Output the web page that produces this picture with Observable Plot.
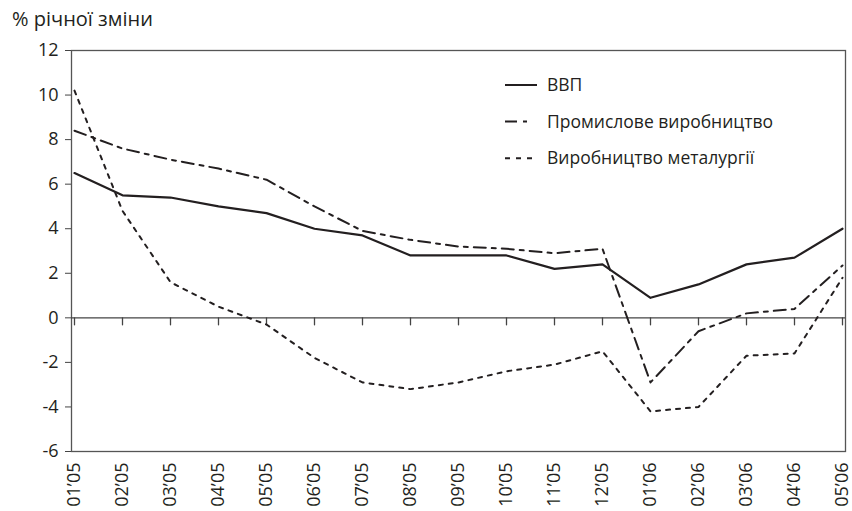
<!DOCTYPE html>
<html>
<head>
<meta charset="utf-8">
<script src="https://cdn.jsdelivr.net/npm/d3@7"></script>
<script src="https://cdn.jsdelivr.net/npm/@observablehq/plot@0.6"></script>
<style>
  html, body { margin: 0; padding: 0; background: #fff; }
  #wrap { position: relative; width: 852px; height: 511px; font-family: "Open Sans", sans-serif; color: #231f20; }
  #title { position: absolute; left: 12px; top: 6px; font-size: 20px; line-height: 26px; }
  #legend { position: absolute; left: 0; top: 0; pointer-events: none; }
</style>
</head>
<body>
<div id="wrap">
  <div id="chart"></div>
  <div id="title">% річної зміни</div>
</div>
<script>
const months = ["01’05","02’05","03’05","04’05","05’05","06’05","07’05","08’05","09’05","10’05","11’05","12’05","01’06","02’06","03’06","04’06","05’06"];
const gdp = [6.5, 5.5, 5.4, 5.0, 4.7, 4.0, 3.7, 2.8, 2.8, 2.8, 2.2, 2.4, 0.9, 1.5, 2.4, 2.7, 4.0];
const industry = [8.4, 7.6, 7.1, 6.7, 6.2, 5.0, 3.9, 3.5, 3.2, 3.1, 2.9, 3.1, -2.9, -0.6, 0.2, 0.4, 2.35];
const metallurgy = [10.2, 4.8, 1.6, 0.5, -0.3, -1.8, -2.9, -3.2, -2.9, -2.4, -2.1, -1.5, -4.2, -4.0, -1.7, -1.6, 1.8];
const yTicks = [-6, -4, -2, 0, 2, 4, 6, 8, 10, 12];
const seriesNames = ["ВВП", "Промислове виробництво", "Виробництво металургії"];

const ink = "#231f20";
const toRows = (vals) => months.map((m, i) => ({month: m, value: vals[i]}));

const tickShape = { draw(context, l) { context.moveTo(0, 0); context.lineTo(0, -l); } };

const chart = Plot.plot({
  width: 852,
  height: 511,
  marginLeft: 71,
  marginRight: 7,
  marginTop: 50,
  marginBottom: 60,
  style: { fontFamily: "Open Sans, sans-serif", fontSize: "17px", color: ink, background: "#fff" },
  x: { type: "point", domain: months, padding: 0 },
  y: { domain: [-6, 12] },
  marks: [
    Plot.frame({ stroke: "#555", strokeWidth: 1.3 }),
    Plot.ruleX([0], { frameAnchor: "left", stroke: ink, strokeWidth: 1.5 }),
    Plot.ruleY([0], { stroke: "#444", strokeWidth: 1.3 }),
    Plot.vector(months, { x: d => d, y: 0, length: 7, rotate: 180, anchor: "start", shape: tickShape, stroke: "#444", strokeWidth: 1.3 }),
    Plot.axisY({ ticks: yTicks, tickSize: 6, tickPadding: 7, tickFormat: d => String(d), label: null, stroke: "#444", fontSize: 18, fill: ink }),
    Plot.axisX({ anchor: "bottom", tickSize: 0, tickPadding: 11, tickRotate: -90, label: null, fontSize: 18, fill: ink }),
    Plot.line(toRows(metallurgy), { x: "month", y: "value", stroke: ink, strokeWidth: 2, strokeDasharray: "4,6" }),
    Plot.line(toRows(industry), { x: "month", y: "value", stroke: ink, strokeWidth: 2, strokeDasharray: "12,6,4,6" }),
    Plot.line(toRows(gdp), { x: "month", y: "value", stroke: ink, strokeWidth: 2.2 })
  ]
});
document.getElementById("chart").appendChild(chart);

// legend overlay
const ns = "http://www.w3.org/2000/svg";
const leg = document.createElementNS(ns, "svg");
leg.setAttribute("id", "legend");
leg.setAttribute("width", 852);
leg.setAttribute("height", 511);
const dashes = [null, "12,6,4,20", "5,6"];
const x2s = [537, 528, 533];
seriesNames.forEach((name, i) => {
  const cy = 85 + i * 36.6;
  const ln = document.createElementNS(ns, "line");
  ln.setAttribute("x1", 505); ln.setAttribute("x2", x2s[i]);
  ln.setAttribute("y1", cy); ln.setAttribute("y2", cy);
  ln.setAttribute("stroke", ink); ln.setAttribute("stroke-width", 2);
  if (dashes[i]) ln.setAttribute("stroke-dasharray", dashes[i]);
  leg.appendChild(ln);
  const t = document.createElementNS(ns, "text");
  t.setAttribute("x", 547); t.setAttribute("y", cy);
  t.setAttribute("dy", "0.35em");
  t.setAttribute("font-family", "Open Sans, sans-serif");
  t.setAttribute("font-size", "17.5px");
  t.setAttribute("fill", ink);
  t.textContent = name;
  leg.appendChild(t);
});
document.getElementById("wrap").appendChild(leg);
</script>
</body>
</html>
